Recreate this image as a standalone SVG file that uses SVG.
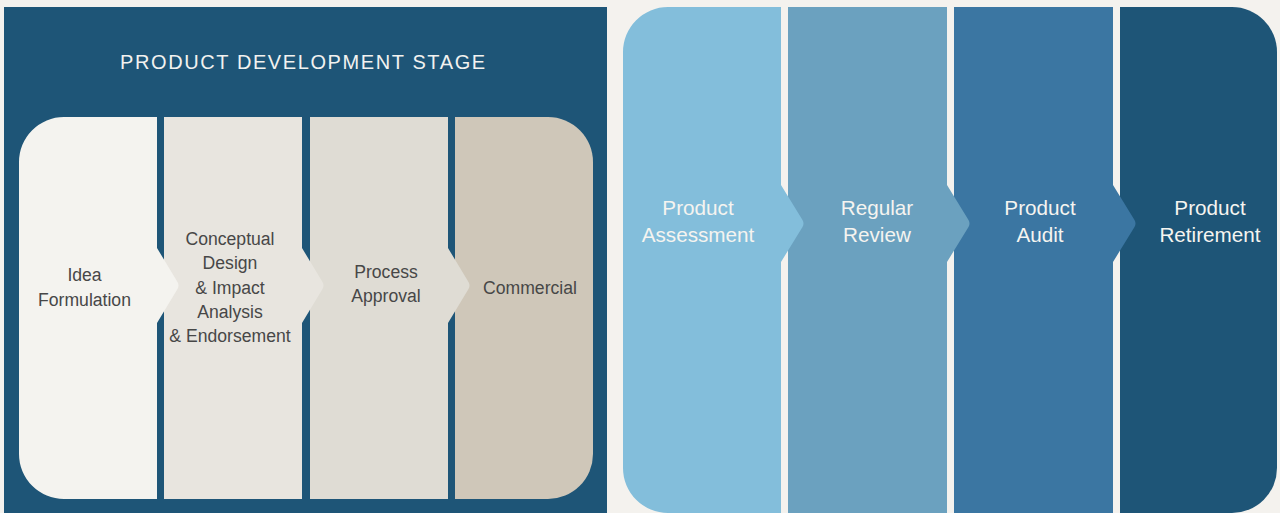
<svg xmlns="http://www.w3.org/2000/svg" width="1280" height="513" viewBox="0 0 1280 513">
<style>
.lt{font-family:"Liberation Sans",Arial,sans-serif;font-size:17.6px;fill:#474747;text-anchor:middle}
.rt{font-family:"Liberation Sans",Arial,sans-serif;font-size:20.7px;fill:#f5f4f0;text-anchor:middle}
.title{font-family:"Liberation Sans",Arial,sans-serif;font-size:20px;fill:#f2f2f0;letter-spacing:1.6px}
</style>
<rect x="0" y="0" width="1280" height="513" fill="#f4f2ee"/>
<g id="panel-left">
<rect x="4" y="7" width="603" height="506" fill="#1e5577"/>
<text class="title" x="120" y="68.5">PRODUCT DEVELOPMENT STAGE</text>
</g>
<g id="commercial">
<path d="M455 117 H548 A45 45 0 0 1 593 162 V454 A45 45 0 0 1 548 499 H455 Z" fill="#cfc7b9"/>
<text class="lt" x="530" y="294">Commercial</text>
</g>
<g id="process-approval">
<path d="M310 117 H448 V248 L468.5 282 Q470.5 285.5 468.5 289 L448 323 V499 H310 Z" fill="#dfdcd4"/>
<text class="lt" x="386" y="277.5">Process</text>
<text class="lt" x="386" y="301.8">Approval</text>
</g>
<g id="conceptual-design">
<path d="M164 117 H302 V248 L322.5 282 Q324.5 285.5 322.5 289 L302 323 V499 H164 Z" fill="#e8e5df"/>
<text class="lt" x="230" y="245">Conceptual</text>
<text class="lt" x="230" y="269.3">Design</text>
<text class="lt" x="230" y="293.8">&amp; Impact</text>
<text class="lt" x="230" y="318.2">Analysis</text>
<text class="lt" x="230" y="342.4">&amp; Endorsement</text>
</g>
<g id="idea-formulation">
<path d="M64 117 H157 V248 L177.5 282 Q179.5 285.5 177.5 289 L157 323 V499 H64 A45 45 0 0 1 19 454 V162 A45 45 0 0 1 64 117 Z" fill="#f4f3ef"/>
<text class="lt" x="84.5" y="280.7">Idea</text>
<text class="lt" x="84.5" y="305.5">Formulation</text>
</g>
<g id="product-retirement">
<path d="M1120 7 H1232 A45 45 0 0 1 1277 52 V468 A45 45 0 0 1 1232 513 H1120 Z" fill="#1e5577"/>
<text class="rt" x="1210" y="215">Product</text>
<text class="rt" x="1210" y="242">Retirement</text>
</g>
<g id="product-audit">
<path d="M954 7 H1113 V185 L1134.5 220 Q1136.5 223.5 1134.5 227 L1113 262 V513 H954 Z" fill="#3b76a2"/>
<text class="rt" x="1040" y="215">Product</text>
<text class="rt" x="1040" y="242">Audit</text>
</g>
<g id="regular-review">
<path d="M788 7 H947 V185 L968.5 220 Q970.5 223.5 968.5 227 L947 262 V513 H788 Z" fill="#6ba1bf"/>
<text class="rt" x="877" y="215">Regular</text>
<text class="rt" x="877" y="242">Review</text>
</g>
<g id="product-assessment">
<path d="M668 7 H781 V185 L802.5 220 Q804.5 223.5 802.5 227 L781 262 V513 H668 A45 45 0 0 1 623 468 V52 A45 45 0 0 1 668 7 Z" fill="#83bedb"/>
<text class="rt" x="698" y="215">Product</text>
<text class="rt" x="698" y="242">Assessment</text>
</g>
<g id="connectors"/>
</svg>
